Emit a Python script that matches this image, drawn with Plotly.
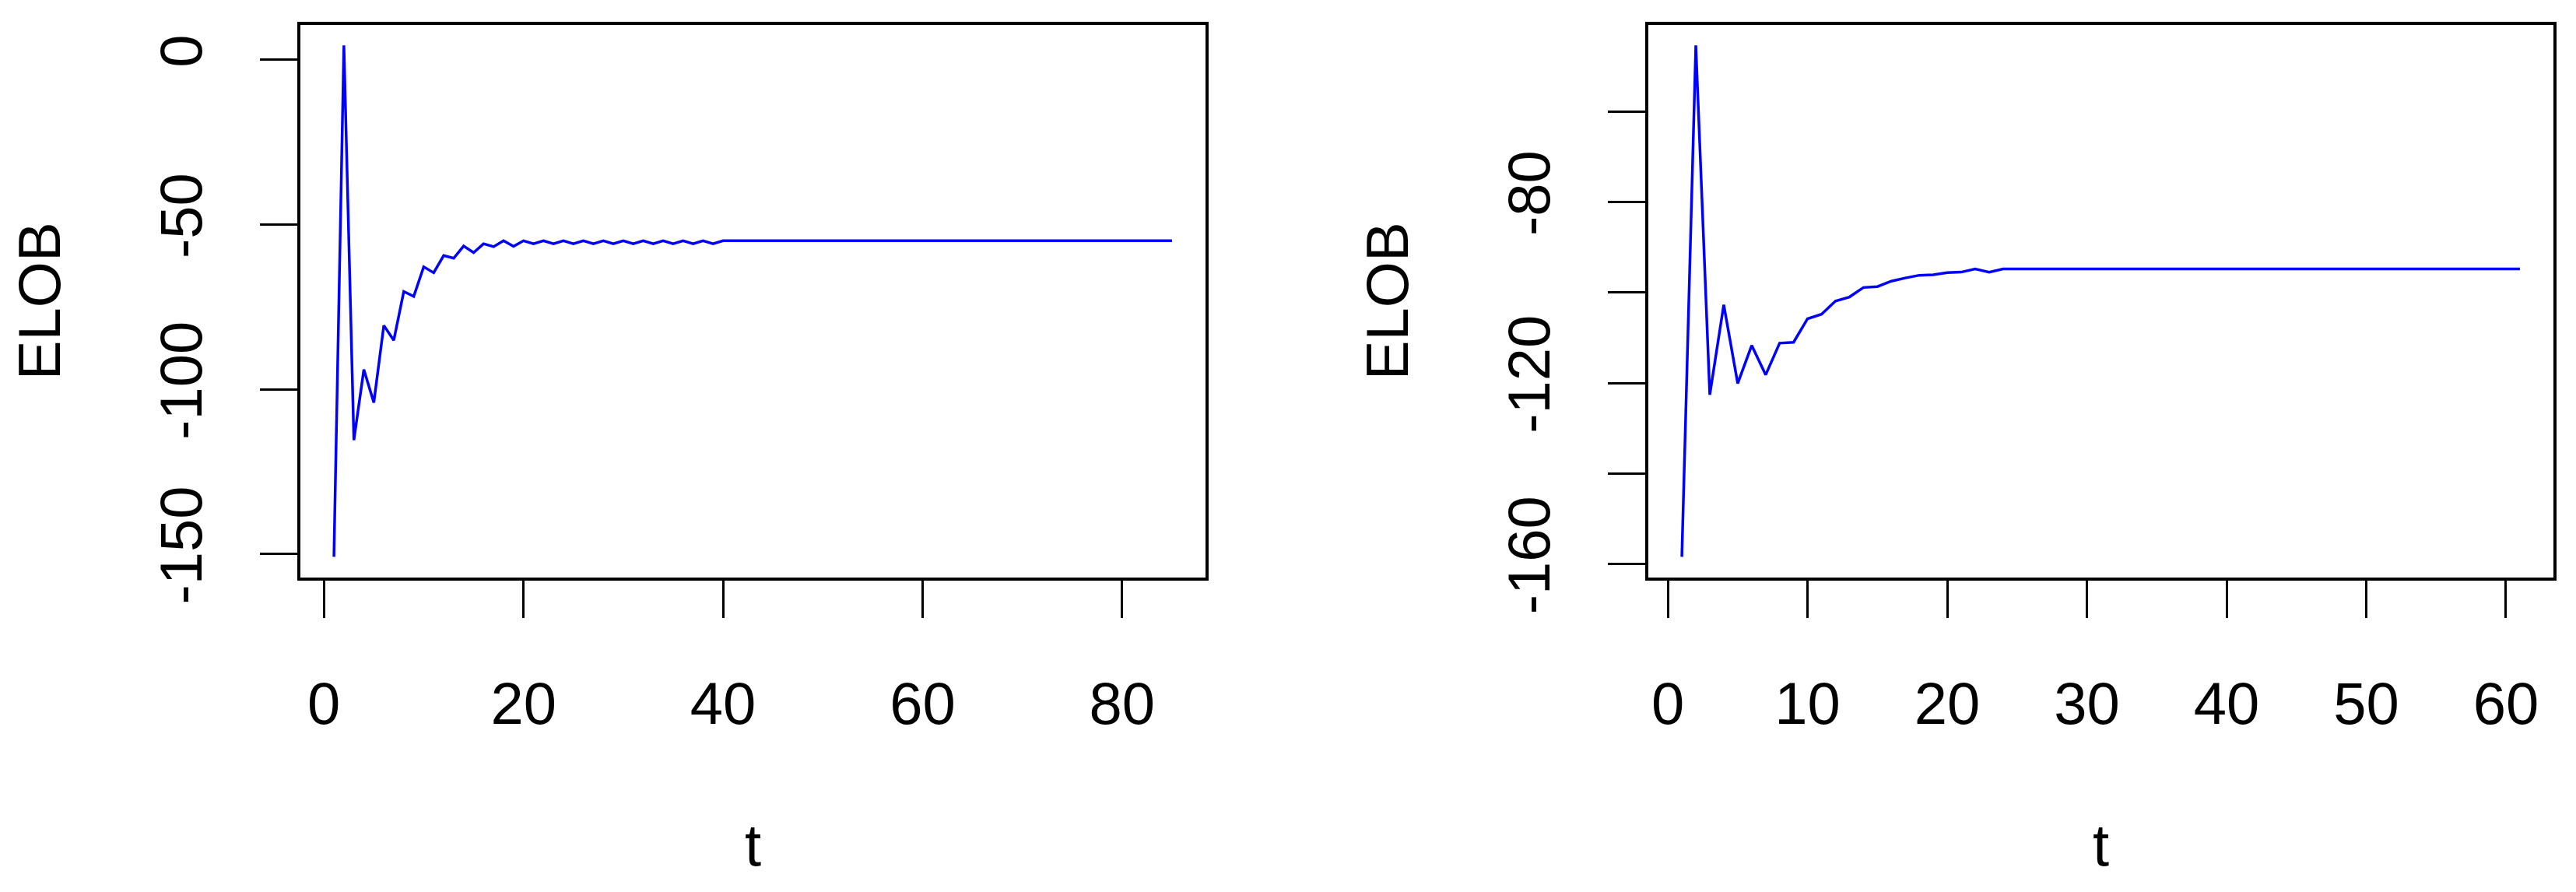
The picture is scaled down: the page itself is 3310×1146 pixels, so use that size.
import plotly.graph_objects as go

# ELOB traces (t is the iteration index)
t_left = list(range(1, 86))
elob_left = [
    -150.8, 4.4, -115.4, -94.0, -104.0, -80.6, -85.1, -70.3, -71.8, -62.8,
    -64.6, -59.4, -60.2, -56.5, -58.5, -55.8, -56.7, -54.9, -56.6, -54.9,
    -55.8, -54.9, -55.8, -54.9, -55.8, -54.9, -55.8, -54.9, -55.8, -54.9,
    -55.8, -54.9, -55.8, -54.9, -55.8, -54.9, -55.8, -54.9, -55.8, -54.9,
    -54.9, -54.9, -54.9, -54.9, -54.9, -54.9, -54.9, -54.9, -54.9, -54.9,
    -54.9, -54.9, -54.9, -54.9, -54.9, -54.9, -54.9, -54.9, -54.9, -54.9,
    -54.9, -54.9, -54.9, -54.9, -54.9, -54.9, -54.9, -54.9, -54.9, -54.9,
    -54.9, -54.9, -54.9, -54.9, -54.9, -54.9, -54.9, -54.9, -54.9, -54.9,
    -54.9, -54.9, -54.9, -54.9, -54.9,
]

t_right = list(range(1, 62))
elob_right = [
    -158.4, -45.4, -122.6, -102.7, -120.1, -111.7, -118.2, -111.2, -111.0, -105.8,
    -104.8, -101.9, -101.0, -98.9, -98.7, -97.5, -96.8, -96.2, -96.1, -95.6,
    -95.5, -94.8, -95.5, -94.8, -94.8, -94.8, -94.8, -94.8, -94.8, -94.8,
    -94.8, -94.8, -94.8, -94.8, -94.8, -94.8, -94.8, -94.8, -94.8, -94.8,
    -94.8, -94.8, -94.8, -94.8, -94.8, -94.8, -94.8, -94.8, -94.8, -94.8,
    -94.8, -94.8, -94.8, -94.8, -94.8, -94.8, -94.8, -94.8, -94.8, -94.8,
    -94.8,
]

# tick labels
x_ticks_left = [0, 20, 40, 60, 80]
y_ticks_left = [0, -50, -100, -150]
y_labels_left = ["0", "-50", "-100", "-150"]
x_ticks_right = [0, 10, 20, 30, 40, 50, 60]
y_ticks_right = [-60, -80, -100, -120, -140, -160]
y_labels_right = ["", "-80", "", "-120", "", "-160"]

W, H = 3310, 1146
FONT = dict(family="Liberation Sans, Arial, sans-serif", size=76, color="black")


def r_range(vals):
    # R's default "r" axis style: 4% padding on each side
    lo, hi = min(vals), max(vals)
    pad = 0.04 * (hi - lo)
    return [lo - pad, hi + pad]


def axis_style(**kw):
    base = dict(
        showline=True, mirror=True, linecolor="black", linewidth=4,
        ticks="outside", ticklen=48, tickwidth=3, tickcolor="black",
        showgrid=False, zeroline=False, tickfont=FONT,
        title_font=FONT,
    )
    base.update(kw)
    return base


y_dom = [1 - 765 / H, 1 - 25 / H]

fig = go.Figure()
fig.add_trace(go.Scatter(x=t_left, y=elob_left, mode="lines",
                         line=dict(color="#0000FF", width=3.5),
                         xaxis="x", yaxis="y"))
fig.add_trace(go.Scatter(x=t_right, y=elob_right, mode="lines",
                         line=dict(color="#0000FF", width=3.5),
                         xaxis="x2", yaxis="y2"))

fig.update_layout(
    width=W, height=H,
    margin=dict(l=0, r=0, t=0, b=0),
    paper_bgcolor="white", plot_bgcolor="white",
    showlegend=False,
    xaxis=axis_style(domain=[378 / W, 1541 / W], anchor="y",
                     range=r_range(t_left), tickvals=x_ticks_left,
                     ticklabelstandoff=45,
                     title=dict(text="t", standoff=115)),
    yaxis=axis_style(domain=y_dom, anchor="x",
                     range=r_range(elob_left), tickvals=y_ticks_left,
                     ticktext=y_labels_left, tickangle=-90,
                     ticklabelstandoff=45,
                     title=dict(text="ELOB", standoff=88)),
    xaxis2=axis_style(domain=[2110 / W, 3273 / W], anchor="y2",
                      range=r_range(t_right), tickvals=x_ticks_right,
                      ticklabelstandoff=45,
                      title=dict(text="t", standoff=115)),
    yaxis2=axis_style(domain=y_dom, anchor="x2",
                      range=r_range(elob_right), tickvals=y_ticks_right,
                      ticktext=y_labels_right, tickangle=-90,
                      ticklabelstandoff=45,
                      title=dict(text="ELOB", standoff=88)),
)

fig.write_html("out.html")
